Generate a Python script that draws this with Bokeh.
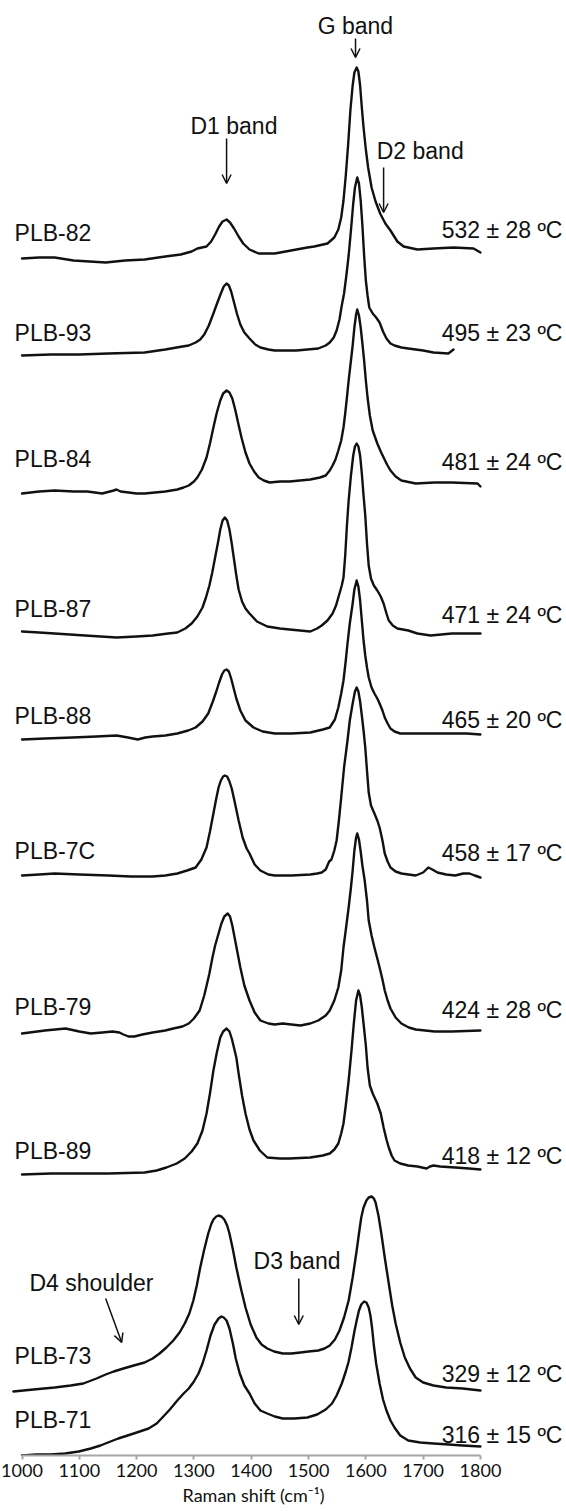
from bokeh.plotting import figure
from bokeh.models import Range1d, FixedTicker, Arrow, OpenHead, ColumnDataSource, Title
from bokeh.core.properties import value
from bokeh.embed import file_html
from bokeh.resources import INLINE

# ---------------- data ----------------
x_ticks = [1000, 1100, 1200, 1300, 1400, 1500, 1600, 1700, 1800]

samples = ["PLB-82", "PLB-93", "PLB-84", "PLB-87", "PLB-88", "PLB-7C", "PLB-79", "PLB-89", "PLB-73", "PLB-71"]
temps = ["532 \u00b1 28 \u00baC", "495 \u00b1 23 \u00baC", "481 \u00b1 24 \u00baC", "471 \u00b1 24 \u00baC",
         "465 \u00b1 20 \u00baC", "458 \u00b1 17 \u00baC", "424 \u00b1 28 \u00baC", "418 \u00b1 12 \u00baC",
         "329 \u00b1 12 \u00baC", "316 \u00b1 15 \u00baC"]

# Raman shift (cm-1) and stacked intensity (a.u.) for every spectrum
x_plb82 = [1000, 1030, 1057, 1090, 1146, 1180, 1214, 1250, 1277, 1296, 1306, 1322, 1330, 1337, 1344, 1350, 1357,
           1363, 1370, 1378, 1386, 1397, 1413, 1441, 1479, 1498, 1510, 1533, 1545, 1552, 1557, 1561, 1565, 1569,
           1573, 1577, 1580, 1584, 1587, 1590, 1593, 1596, 1600, 1604, 1610, 1617, 1625, 1634, 1643, 1655, 1666,
           1690, 1718, 1753, 1788, 1800]
y_plb82 = [1197, 1198, 1198, 1195, 1193, 1195, 1196, 1199, 1201, 1204, 1207, 1209, 1214, 1221, 1229, 1234, 1236,
           1233, 1227, 1219, 1212, 1206, 1202, 1202, 1206, 1208, 1209, 1212, 1218, 1226, 1238, 1255, 1280, 1310,
           1345, 1370, 1383, 1388, 1384, 1370, 1348, 1328, 1306, 1288, 1268, 1254, 1242, 1232, 1225, 1214, 1209,
           1206, 1207, 1208, 1207, 1203]

x_plb93 = [1000, 1050, 1100, 1150, 1214, 1250, 1280, 1291, 1303, 1311, 1318, 1326, 1334, 1341, 1347, 1352, 1357,
           1361, 1365, 1370, 1375, 1381, 1388, 1397, 1407, 1416, 1430, 1441, 1479, 1517, 1530, 1537, 1544, 1549,
           1554, 1558, 1562, 1566, 1570, 1574, 1578, 1581, 1585, 1588, 1591, 1594, 1597, 1600, 1603, 1606, 1612,
           1618, 1624, 1630, 1636, 1643, 1650, 1662, 1674, 1700, 1718, 1744, 1753]
y_plb93 = [1100, 1101, 1101, 1102, 1103, 1106, 1109, 1110, 1113, 1116, 1121, 1130, 1142, 1153, 1162, 1169, 1172,
           1170, 1164, 1153, 1142, 1131, 1123, 1117, 1111, 1108, 1106, 1105, 1105, 1107, 1110, 1113, 1118, 1125,
           1136, 1150, 1162, 1180, 1200, 1225, 1252, 1268, 1278, 1272, 1255, 1230, 1200, 1175, 1160, 1148, 1142,
           1138, 1133, 1124, 1117, 1112, 1110, 1108, 1107, 1105, 1103, 1102, 1106]

x_plb84 = [1000, 1030, 1057, 1090, 1114, 1140, 1160, 1165, 1172, 1200, 1214, 1250, 1271, 1282, 1291, 1300, 1306,
           1314, 1322, 1328, 1334, 1340, 1346, 1351, 1357, 1362, 1367, 1372, 1377, 1383, 1390, 1397, 1405, 1413,
           1422, 1432, 1450, 1467, 1503, 1520, 1530, 1537, 1542, 1547, 1552, 1557, 1561, 1564, 1567, 1570, 1574,
           1577, 1580, 1583, 1585, 1588, 1591, 1594, 1597, 1600, 1603, 1607, 1612, 1620, 1626, 1631, 1637, 1643,
           1652, 1662, 1687, 1720, 1750, 1795, 1800]
y_plb84 = [962, 964, 965, 964, 964, 962, 965, 966, 964, 962, 962, 964, 966, 968, 970, 974, 978,
           986, 998, 1012, 1028, 1043, 1055, 1062, 1065, 1063, 1057, 1046, 1033, 1018, 1003, 992, 984, 978,
           975, 973, 974, 974, 976, 978, 980, 985, 990, 996, 1005, 1015, 1028, 1042, 1058, 1075, 1095,
           1110, 1128, 1141, 1146, 1140, 1128, 1112, 1095, 1075, 1058, 1040, 1025, 1012, 1004, 998, 991, 985,
           979, 975, 972, 973, 973, 972, 969]

x_plb87 = [1000, 1030, 1057, 1110, 1165, 1200, 1228, 1255, 1271, 1285, 1296, 1306, 1315, 1321, 1327, 1332, 1337,
           1342, 1346, 1350, 1354, 1358, 1362, 1366, 1370, 1374, 1378, 1384, 1390, 1397, 1410, 1428, 1450, 1467,
           1503, 1515, 1523, 1533, 1542, 1548, 1554, 1558, 1561, 1564, 1567, 1570, 1574, 1578, 1581, 1584, 1587,
           1590, 1593, 1596, 1599, 1602, 1605, 1609, 1614, 1620, 1626, 1631, 1636, 1640, 1647, 1655, 1674, 1690,
           1713, 1750, 1800]
y_plb87 = [824, 823, 822, 820, 818, 819, 820, 822, 823, 827, 832, 839, 848, 858, 870, 883, 898,
           913, 926, 935, 938, 935, 926, 912, 896, 880, 866, 854, 847, 842, 834, 829, 827, 826,
           824, 827, 830, 835, 842, 850, 862, 870, 878, 900, 930, 955, 980, 1000, 1009, 1012, 1009,
           1000, 982, 960, 940, 912, 890, 877, 870, 865, 859, 852, 842, 835, 830, 827, 825, 822,
           820, 822, 822]

x_plb88 = [1000, 1040, 1088, 1130, 1165, 1185, 1202, 1215, 1228, 1250, 1271, 1290, 1303, 1315, 1325, 1333, 1339,
           1344, 1349, 1353, 1357, 1361, 1365, 1369, 1374, 1381, 1390, 1404, 1420, 1441, 1470, 1503, 1525, 1537,
           1546, 1552, 1557, 1561, 1565, 1568, 1572, 1577, 1580, 1584, 1587, 1590, 1593, 1596, 1599, 1602, 1605,
           1610, 1615, 1620, 1624, 1629, 1633, 1638, 1643, 1650, 1660, 1718, 1776, 1800]
y_plb88 = [716, 717, 718, 719, 720, 718, 716, 718, 719, 720, 722, 725, 728, 734, 742, 754, 764,
           773, 781, 785, 786, 784, 777, 768, 757, 745, 735, 728, 724, 722, 722, 723, 726, 728,
           736, 748, 762, 775, 795, 812, 832, 852, 866, 875, 869, 855, 835, 815, 800, 788, 778,
           768, 762, 757, 752, 745, 738, 732, 727, 724, 722, 722, 722, 721]

x_plb7c = [1000, 1030, 1057, 1100, 1151, 1190, 1228, 1250, 1271, 1288, 1303, 1313, 1322, 1328, 1334, 1339, 1343,
           1347, 1351, 1354, 1358, 1362, 1366, 1371, 1378, 1385, 1392, 1397, 1406, 1416, 1430, 1441, 1470, 1503,
           1515, 1523, 1530, 1533, 1536, 1540, 1545, 1549, 1553, 1557, 1562, 1568, 1572, 1577, 1581, 1584, 1587,
           1590, 1593, 1596, 1599, 1602, 1605, 1609, 1615, 1620, 1624, 1629, 1633, 1638, 1643, 1652, 1662, 1687,
           1700, 1709, 1716, 1725, 1740, 1756, 1770, 1781, 1790, 1800]
y_plb7c = [580, 581, 582, 581, 580, 579, 579, 580, 582, 585, 588, 596, 608, 624, 642, 657, 668,
           675, 679, 680, 679, 674, 667, 654, 635, 618, 607, 602, 591, 585, 581, 580, 580, 581,
           582, 583, 586, 590, 594, 596, 605, 615, 635, 658, 688, 715, 735, 752, 764, 768, 764,
           754, 740, 725, 708, 685, 663, 650, 642, 635, 628, 615, 602, 594, 588, 584, 582, 580,
           583, 588, 586, 583, 581, 580, 582, 582, 580, 578]

x_plb79 = [1000, 1040, 1076, 1100, 1120, 1140, 1158, 1170, 1177, 1186, 1196, 1210, 1228, 1250, 1264, 1280, 1291,
           1300, 1310, 1318, 1323, 1327, 1332, 1337, 1343, 1348, 1353, 1359, 1363, 1367, 1371, 1376, 1381, 1388,
           1397, 1406, 1416, 1430, 1441, 1455, 1470, 1486, 1503, 1517, 1530, 1537, 1545, 1552, 1557, 1561, 1566,
           1570, 1574, 1577, 1580, 1583, 1585, 1588, 1591, 1594, 1598, 1602, 1605, 1610, 1615, 1620, 1624, 1629,
           1633, 1638, 1643, 1652, 1662, 1675, 1687, 1720, 1750, 1800]
y_plb79 = [422, 425, 427, 424, 422, 423, 424, 423, 421, 419, 419, 421, 423, 425, 427, 429, 432,
           437, 445, 460, 472, 482, 497, 510, 522, 532, 539, 542, 539, 530, 518, 503, 488, 470,
           455, 443, 435, 432, 431, 432, 431, 430, 432, 435, 440, 445, 455, 468, 485, 508, 530,
           548, 568, 585, 605, 618, 622, 616, 604, 590, 575, 555, 535, 520, 508, 497, 488, 476,
           465, 455, 447, 438, 432, 428, 426, 424, 424, 425]

x_plb89 = [1000, 1050, 1088, 1151, 1214, 1235, 1252, 1270, 1284, 1296, 1306, 1315, 1322, 1328, 1334, 1340, 1346,
           1351, 1357, 1362, 1366, 1369, 1374, 1378, 1384, 1390, 1397, 1404, 1415, 1428, 1450, 1467, 1503, 1525,
           1537, 1545, 1552, 1557, 1561, 1565, 1570, 1575, 1579, 1583, 1587, 1590, 1593, 1596, 1600, 1603, 1607,
           1612, 1616, 1620, 1626, 1631, 1636, 1640, 1645, 1650, 1660, 1674, 1690, 1706, 1712, 1718, 1730, 1756,
           1780, 1800]
y_plb89 = [281, 282, 282, 282, 283, 285, 288, 292, 297, 304, 312, 325, 342, 362, 385, 403, 418,
           424, 427, 424, 417, 410, 398, 382, 360, 342, 326, 315, 305, 298, 297, 297, 298, 300,
           302, 306, 312, 322, 332, 350, 375, 405, 432, 455, 465, 460, 448, 432, 410, 388, 370,
           362, 357, 352, 342, 328, 316, 308, 300, 295, 292, 290, 289, 287, 289, 290, 289, 288,
           287, 286]

x_plb73 = [985, 1020, 1057, 1085, 1107, 1130, 1146, 1160, 1177, 1195, 1214, 1228, 1240, 1252, 1264, 1275, 1284,
           1292, 1299, 1305, 1311, 1318, 1325, 1330, 1334, 1339, 1343, 1348, 1353, 1358, 1362, 1368, 1374, 1382,
           1390, 1399, 1409, 1418, 1428, 1440, 1455, 1470, 1486, 1500, 1517, 1528, 1537, 1546, 1554, 1562, 1570,
           1577, 1584, 1588, 1592, 1596, 1601, 1605, 1610, 1614, 1617, 1622, 1627, 1633, 1640, 1646, 1652, 1660,
           1668, 1677, 1687, 1700, 1718, 1740, 1769, 1800]
y_plb73 = [64, 66, 68, 70, 72, 77, 81, 84, 87, 90, 93, 97, 102, 108, 115, 123, 132,
           142, 155, 170, 188, 206, 222, 231, 236, 239, 240, 239, 236, 230, 222, 206, 188, 167,
           148, 131, 118, 111, 107, 104, 102, 102, 103, 104, 105, 107, 110, 116, 125, 138, 155,
           178, 205, 222, 238, 248, 255, 258, 259, 257, 253, 240, 222, 198, 172, 150, 132, 113,
           98, 87, 78, 73, 70, 68, 67, 65]

x_plb71 = [1000, 1025, 1050, 1075, 1099, 1120, 1137, 1150, 1168, 1195, 1221, 1235, 1245, 1258, 1271, 1282, 1291,
           1300, 1308, 1315, 1322, 1329, 1336, 1343, 1348, 1352, 1357, 1362, 1368, 1373, 1380, 1388, 1397, 1406,
           1416, 1428, 1441, 1455, 1475, 1498, 1515, 1530, 1541, 1549, 1558, 1565, 1570, 1575, 1580, 1584, 1588,
           1592, 1597, 1601, 1605, 1608, 1611, 1614, 1618, 1624, 1630, 1636, 1643, 1650, 1660, 1674, 1695, 1718,
           1745, 1769, 1800]
y_plb71 = [0, 1, 1, 2, 4, 7, 10, 13, 17, 22, 27, 32, 38, 46, 55, 62, 67,
           74, 82, 92, 105, 120, 131, 137, 139, 138, 135, 127, 112, 97, 82, 70, 62, 52,
           45, 42, 39, 37, 37, 38, 41, 46, 52, 60, 72, 84, 94, 108, 124, 135, 145,
           151, 154, 153, 148, 140, 127, 110, 92, 72, 56, 45, 35, 28, 20, 15, 13, 12,
           11, 10, 9]

band_labels = ["G band", "D1 band", "D2 band", "D3 band", "D4 shoulder"]
axis_title = "Raman shift (cm\u207b\u00b9)"

# ---------------- layout / style ----------------
LINE = "#111111"
FONT = "Liberation Sans"
FS = "23px"
W, H = 566, 1511
AXIS_PAGE_Y = 1455      # frame spans page y 0..1455, 1 unit = 1 px
PX = 1.745              # cm-1 per pixel
TXT_DY = 8              # text glyph baseline correction (px)

p = figure(width=W, height=H, output_backend="svg", toolbar_location=None,
           x_range=Range1d(1000 - 21.5 * PX, 1000 + (W - 21.5) * PX), y_range=Range1d(0, AXIS_PAGE_Y),
           y_axis_location=None, min_border_left=0, min_border_right=0,
           min_border_top=0, min_border_bottom=H - AXIS_PAGE_Y)
p.outline_line_color = None
p.grid.visible = False

ax = p.xaxis[0]
ax.ticker = FixedTicker(ticks=x_ticks)
ax.bounds = (x_ticks[0], x_ticks[-1])
ax.axis_line_color = "#a6a6a6"
ax.axis_line_width = 2
ax.major_tick_line_color = "#a6a6a6"
ax.major_tick_line_width = 2
ax.major_tick_out = 4
ax.major_tick_in = 0
ax.minor_tick_out = 0
ax.minor_tick_in = 0
ax.major_label_text_font = "Lato"
ax.major_label_text_font_size = "18px"
ax.major_label_text_color = "#111111"
ax.major_label_standoff = 4

# axis title, aligned under the 1000-1800 span of the axis
p.add_layout(Title(text=axis_title, align="left", offset=182, standoff=4,
                   text_font="Lato", text_font_size="18px", text_font_style="normal",
                   text_color="#111111"), "below")

series = [(x_plb82, y_plb82), (x_plb93, y_plb93), (x_plb84, y_plb84), (x_plb87, y_plb87),
          (x_plb88, y_plb88), (x_plb7c, y_plb7c), (x_plb79, y_plb79), (x_plb89, y_plb89),
          (x_plb73, y_plb73), (x_plb71, y_plb71)]
for xs, ys in series:
    p.line(xs, ys, line_color=LINE, line_width=2.4, line_join="round", line_cap="round")

# text baselines in page pixels (layout)
left_base = [240, 340, 466, 616, 723, 858, 1014, 1158, 1363, 1427]
right_base = [237, 340, 469, 622, 727, 860, 1017, 1163, 1381, 1442]

left_src = ColumnDataSource(dict(x=[987] * len(samples),
                                 y=[AXIS_PAGE_Y - b + TXT_DY for b in left_base], t=samples))
p.text(x="x", y="y", text="t", source=left_src, text_font=value(FONT), text_font_size=value(FS),
       text_color=LINE, text_align="left", text_baseline="alphabetic")

right_src = ColumnDataSource(dict(x=[1943] * len(temps),
                                  y=[AXIS_PAGE_Y - b + TXT_DY for b in right_base], t=temps))
p.text(x="x", y="y", text="t", source=right_src, text_font=value(FONT), text_font_size=value(FS),
       text_color=LINE, text_align="right", text_baseline="alphabetic")

# band annotations: (left x in cm-1, baseline page y)
band_pos = [(1516, 33), (1294, 133), (1619, 158), (1404, 1268), (1013, 1290)]
band_src = ColumnDataSource(dict(x=[b[0] for b in band_pos],
                                 y=[AXIS_PAGE_Y - b[1] + TXT_DY for b in band_pos], t=band_labels))
p.text(x="x", y="y", text="t", source=band_src, text_font=value(FONT), text_font_size=value(FS),
       text_color=LINE, text_align="left", text_baseline="alphabetic")

arrows = [((1582, 38), (1582, 57)), ((1357, 138), (1357, 183)), ((1631, 167), (1631, 212)),
          ((1483, 1278), (1483, 1324)), ((1146, 1298), (1174, 1342))]
for (xs, ys), (xe, ye) in arrows:
    p.add_layout(Arrow(x_start=xs, y_start=AXIS_PAGE_Y - ys, x_end=xe, y_end=AXIS_PAGE_Y - ye,
                       line_color=LINE, line_width=1.5,
                       end=OpenHead(size=9, line_color=LINE, line_width=1.5)))

open("out.html", "w").write(file_html(p, INLINE))
